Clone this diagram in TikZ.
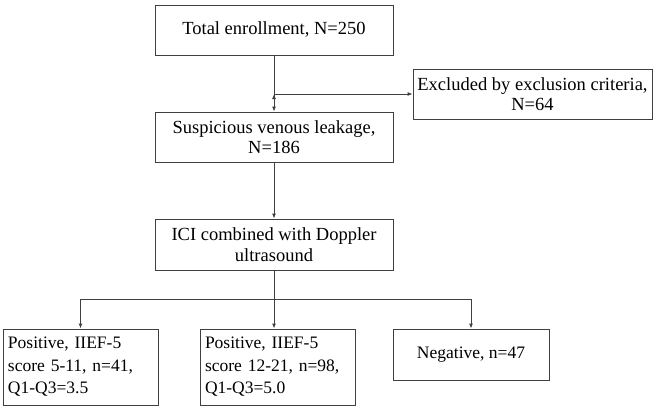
\documentclass[tikz,border=0pt]{standalone}
\usepackage{fontspec}
\setmainfont{Liberation Serif}
\usetikzlibrary{arrows.meta,positioning}
\tikzset{box/.style={draw=black!75,line width=0.9pt,minimum width=238pt,minimum height=50pt,align=center,inner sep=2pt,font=\fontsize{18.5}{20.5}\selectfont},
         leaf/.style={box,minimum width=155pt,text width=145pt,align=left,font=\fontsize{17.5}{22.5}\selectfont},
         flow/.style={draw=black!75,line width=0.9pt,-{Latex[length=5pt,width=4pt]}}}

\begin{document}
\begin{tikzpicture}[x=1pt,y=-1pt]
                   \useasboundingbox (0,0) rectangle (661,408);
                   \node[box] (total) at (274,30) {Total enrollment, N=250};
                   \node[box,minimum width=239pt] (excl) at (532.5,94) {Excluded by exclusion criteria,\\N=64};
                   \node[box] (susp) at (274,137) {Suspicious venous leakage,\\N=186};
                   \node[box,minimum height=51pt] (ici) at (274,244.5) {ICI combined with Doppler\\ultrasound};
                   \node[leaf,minimum height=76pt] (posA) at (80.5,367) {Positive, IIEF-5\\score 5-11, n=41,\\Q1-Q3=3.5};
                   \node[leaf,minimum height=76pt] (posB) at (277.5,367) {Positive, IIEF-5\\score 12-21, n=98,\\Q1-Q3=5.0};
                   \node[box,minimum width=156pt,minimum height=51pt,font=\fontsize{17.5}{22.5}\selectfont] (neg) at (471,354.5) {Negative, n=47};
                   \coordinate (split) at (274,94);
                   \coordinate (fork) at (274,299);
                   \path[flow]
                    (total) edge (susp)
                    (split) edge (excl)
                    (susp) edge (ici);
                   \draw[flow] (ici) -- (fork) -| (posA);
                   \draw[flow] (fork) -| (neg);
                   \draw[flow] (fork) -- (fork |- posB.north);
                \end{tikzpicture}
\end{document}
